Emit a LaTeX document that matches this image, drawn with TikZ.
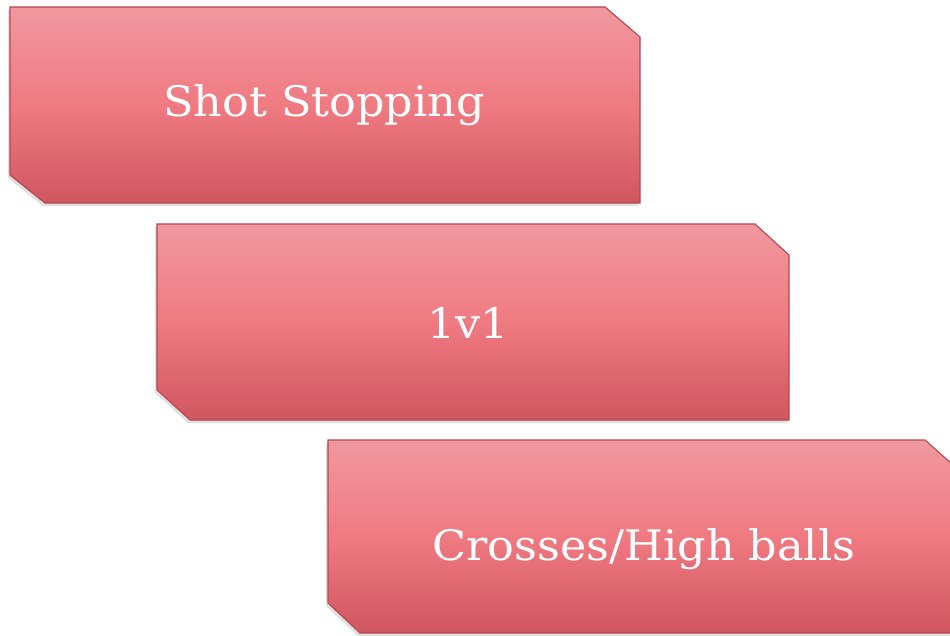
\documentclass[tikz,border=0pt]{standalone}
\usepackage{fontspec}
\newfontfamily\boxfont[FakeStretch=1.06]{DejaVu Serif}
\definecolor{boxtop}{RGB}{240,152,158}
\definecolor{boxmid}{RGB}{240,122,130}
\definecolor{boxbot}{RGB}{208,86,96}
\definecolor{boxline}{RGB}{180,70,80}
\tikzset{
  chamf/.style={draw=boxline, line width=1.1pt, top color=boxtop, bottom color=boxbot, middle color=boxmid},
  shade/.style={fill=black, opacity=0.12},
  lbl/.style={text=white, font=\boxfont\fontsize{42}{50}\selectfont, inner sep=0pt}
}
\begin{document}
\begin{tikzpicture}[x=1pt,y=-1pt]
\useasboundingbox (0,0) rectangle (950,636);
\clip (0,0) rectangle (950,636);
\fill[white] (0,0) rectangle (950,636);
% shadows
\fill[shade] (8,10) -- (603,10) -- (638,40) -- (638,206) -- (43,206) -- (8,178) -- cycle;
\fill[shade] (155,227) -- (753,227) -- (787,258) -- (787,423) -- (188,423) -- (155,393) -- cycle;
\fill[shade] (326,443) -- (923,443) -- (959,475) -- (959,636) -- (358,636) -- (326,606) -- cycle;
% boxes
\draw[chamf] (10,7) -- (605,7) -- (640,37) -- (640,203) -- (45,203) -- (10,175) -- cycle;
\draw[chamf] (157,224) -- (755,224) -- (789,255) -- (789,420) -- (190,420) -- (157,390) -- cycle;
\draw[chamf] (328,440) -- (925,440) -- (961,472) -- (961,633) -- (360,633) -- (328,603) -- cycle;
% labels
\node[lbl, anchor=base] (shot) at (324,117) {Shot Stopping};
\node[lbl, anchor=base] (onev) at (468,338) {1v1};
\node[lbl, anchor=base] (cross) at (644,560) {Crosses/High balls};
\end{tikzpicture}
\end{document}
